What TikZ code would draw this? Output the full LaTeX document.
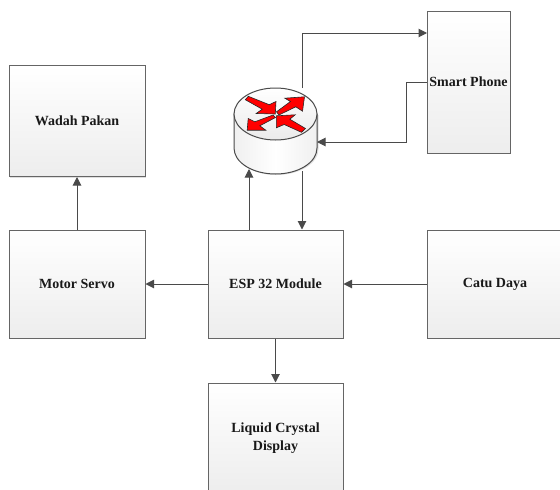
\documentclass[tikz,border=0pt]{standalone}
\usepackage{fontspec}
\setmainfont{Liberation Serif}
\usetikzlibrary{arrows.meta,shadows}
\definecolor{linec}{HTML}{4A4A4A}
\tikzset{
  blockbox/.style={draw=linec!85,line width=1pt,rectangle,align=center,inner sep=0pt,
    top color=white,bottom color=black!7,
    font=\bfseries\fontsize{14}{18}\selectfont,text=black!90,
    drop shadow={shadow xshift=1pt,shadow yshift=-1pt,fill=black!25,opacity=.5}},
  link/.style={draw=linec,line width=1pt,-{Triangle[length=8.5pt,width=8.5pt]}},
  redarrow/.style={fill=red,draw=black!85,line width=0.6pt}
}
\begin{document}
\begin{tikzpicture}[x=1pt,y=-1pt]
\useasboundingbox (0,0) rectangle (560,490);
\begin{scope}
\clip (0,0) rectangle (560,490);
\node[blockbox,minimum width=136pt,minimum height=111pt] (wadah) at (77,121) {Wadah Pakan};
\node[blockbox,minimum width=136pt,minimum height=108pt] (motor) at (77,284) {\raisebox{-1pt}{Motor Servo}};
\node[blockbox,minimum width=135pt,minimum height=108pt] (esp) at (275.5,284) {\raisebox{-1pt}{ESP 32 Module}};
\node[blockbox,minimum width=136pt,minimum height=108pt] (catu) at (495,284) {\raisebox{-1pt}{Catu Daya}};
\node[blockbox,minimum width=135pt,minimum height=110pt] (lcd) at (275.5,438) {Liquid Crystal\\Display};
\node[blockbox,minimum width=83pt,minimum height=142pt] (phone) at (468.5,82) {Smart Phone};
\end{scope}
% router
\node[minimum width=83pt,minimum height=86pt,inner sep=0pt] (router) at (275.5,131) {};
\fill[black!25,opacity=.5] (235,115) -- (235,149) .. controls (235,163.5) and (253.5,175) .. (276.5,175) .. controls (299.5,175) and (318.5,163.5) .. (318.5,149) -- (318.5,115) -- cycle;
\path[draw=linec,line width=1pt,left color=black!6,right color=black!6,middle color=white]
  (234,114) -- (234,148) .. controls (234,162.5) and (252.5,174) .. (275.5,174) .. controls (298.5,174) and (317,162.5) .. (317,148) -- (317,114) -- cycle;
\path[draw=linec,line width=1pt,top color=white,bottom color=black!8]
  (275.5,114) ellipse[x radius=41.5,y radius=26];
\begin{scope}[shift={(275.5,114)}]
  \path[redarrow] (-30.2,-14.3) -- (-27.2,-17.7) -- (-6.3,-9.3) -- (0.5,-12.5) -- (-0.2,0) -- (-19.3,-0.5) -- (-13.3,-4.8) -- cycle;
  \path[redarrow] (29,-17.2) -- (27,-2.8) -- (20.3,-7.2) -- (3.4,1) -- (1,-2.2) -- (15,-12.5) -- (9.3,-15.8) -- cycle;
  \path[redarrow] (-28.3,16.2) -- (-27.3,4.5) -- (-20.7,7.8) -- (-2.4,1) -- (0,3.5) -- (-15.7,11.8) -- (-9.7,16.2) -- cycle;
  \path[redarrow] (0.8,1.8) -- (19.7,0.8) -- (14.3,5.2) -- (30,14.5) -- (26,18.3) -- (8.7,10.5) -- (0.8,13.8) -- cycle;
\end{scope}
% connectors
\coordinate (upfoot) at ([xshift=-26.5pt]esp.north);
\coordinate (uphead) at (249,169);
\coordinate (downfoot) at (302,171);
\coordinate (downhead) at ([xshift=26.5pt]esp.north);
\coordinate (wifitop) at (302,88);
\coordinate (wifibend) at (302,33);
\coordinate (phonein) at (427,33);
\coordinate (backa) at (406,82);
\coordinate (backb) at (406,142);
\coordinate (routerin) at (317,142);
\draw[link] (motor.north) -- (wadah.south);
\draw[link] (esp.west) -- (motor.east);
\draw[link] (catu.west) -- (esp.east);
\draw[link] (esp.south) -- (lcd.north);
\draw[link] (upfoot) -- (uphead);
\draw[link] (downfoot) -- (downhead);
\draw[link] (wifitop) -- (wifibend) -- (phonein);
\draw[link] (phone.west) -- (backa) -- (backb) -- (routerin);
\end{tikzpicture}
\end{document}
